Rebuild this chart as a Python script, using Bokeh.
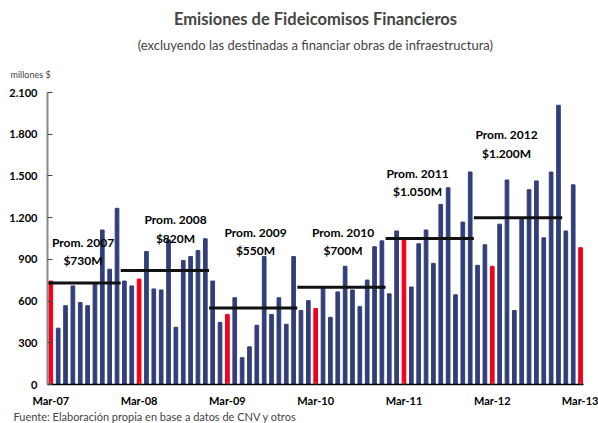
from bokeh.plotting import figure
from bokeh.models import ColumnDataSource, Range1d, FixedTicker, Label, Title
from bokeh.embed import file_html
from bokeh.resources import INLINE

# ---- data (millones $), monthly from Mar-07 to Mar-13 ----
v2007 = [744, 405, 567, 709, 589, 567, 730, 1111, 829, 1267]          # Mar..Dec
v2008 = [744, 709, 758, 956, 687, 680, 1040, 412, 892, 920, 963, 1048]
v2009 = [744, 447, 504, 624, 193, 271, 426, 920, 504, 624, 433, 920]
v2010 = [532, 603, 546, 694, 483, 666, 850, 680, 560, 751, 991, 1033]
v2011 = [652, 1104, 1048, 701, 1012, 1111, 871, 1295, 1415, 645, 1168, 1528]
v2012 = [857, 1005, 850, 1153, 1471, 532, 1189, 1401, 1464, 1055, 1528, 2008]
v2013 = [1104, 1436, 984]                                              # Jan..Mar

avg_years = [2007, 2008, 2009, 2010, 2011, 2012]
avg_values = [730, 820, 550, 700, 1050, 1200]
avg_titles = ["Prom. 2007", "Prom. 2008", "Prom. 2009", "Prom. 2010", "Prom. 2011", "Prom. 2012"]
avg_labels = ["$730M", "$820M", "$550M", "$700M", "$1.050M", "$1.200M"]

y_ticks = [0, 300, 600, 900, 1200, 1500, 1800, 2100]
y_tick_labels = ["0", "300", "600", "900", "1.200", "1.500", "1.800", "2.100"]
x_tick_labels = ["Mar-07", "Mar-08", "Mar-09", "Mar-10", "Mar-11", "Mar-12", "Mar-13"]

NAVY = "#323F7A"
RED = "#F0001A"
FONT = "Lato"

# ---- build monthly table ----
series = [(2007, 3, v2007), (2008, 1, v2008), (2009, 1, v2009), (2010, 1, v2010),
          (2011, 1, v2011), (2012, 1, v2012), (2013, 1, v2013)]
xs, vals, yrs, mons = [], [], [], []
i = 0
for yr, m0, vv in series:
    for k, v in enumerate(vv):
        xs.append(i)
        vals.append(v)
        yrs.append(yr)
        mons.append(m0 + k)
        i += 1
colors = [RED if m == 3 else NAVY for m in mons]
src = ColumnDataSource(dict(x=xs, top=vals, color=colors))

x_ticks = [x for x, m in zip(xs, mons) if m == 3]

# average segments (Jan..Dec of each year)
ax0, ax1 = [], []
for y in avg_years:
    idx = [x for x, yy in zip(xs, yrs) if yy == y]
    ax0.append(min(idx) - 0.5)
    ax1.append(max(idx) + 0.5)
avg_src = ColumnDataSource(dict(x0=ax0, x1=ax1, y=avg_values))

# ---- figure ----
W, H = 598, 423
FL, FR, FT = 47, 583, 92   # frame edges in px
X0, X1 = -0.45, 72.4
Y0, Y1 = 0, 2100

p = figure(width=W, height=H, output_backend="svg", toolbar_location=None,
           x_range=Range1d(X0, X1), y_range=Range1d(Y0, Y1),
           min_border_left=FL, min_border_right=W - FR,
           min_border_top=FT, min_border_bottom=30)
p.outline_line_color = None
p.xgrid.grid_line_color = None
p.ygrid.grid_line_color = None
p.background_fill_color = "white"

p.vbar(x="x", top="top", width=0.5, color="color", source=src)
p.segment(x0="x0", y0="y", x1="x1", y1="y", source=avg_src,
          line_color="#111111", line_width=3)

# y axis
ya = p.yaxis[0]
ya.ticker = FixedTicker(ticks=y_ticks)
ya.major_label_overrides = {t: s for t, s in zip(y_ticks, y_tick_labels)}
ya.major_tick_in = 5
ya.major_tick_out = 0
ya.minor_tick_line_color = None
ya.major_label_standoff = 10
ya.axis_line_color = "#8a8a8a"
ya.axis_line_width = 2
ya.major_tick_line_color = "#444444"
ya.major_label_text_font = FONT
ya.major_label_text_font_style = "bold"
ya.major_label_text_font_size = "11px"
ya.major_label_text_color = "black"

# x axis
xa = p.xaxis[0]
xa.ticker = FixedTicker(ticks=x_ticks)
xa.major_label_overrides = {t: s for t, s in zip(x_ticks, x_tick_labels)}
xa.major_tick_in = 3
xa.major_tick_out = 0
xa.minor_tick_line_color = None
xa.major_tick_line_color = "#777777"
xa.axis_line_color = "black"
xa.axis_line_width = 1.5
xa.major_label_standoff = 9
xa.major_label_text_font = FONT
xa.major_label_text_font_style = "bold"
xa.major_label_text_font_size = "11px"
xa.major_label_text_color = "black"

# helpers: reference pixel -> data coordinates (for in-plot annotations)
FB = 388
def rx(px):
    return X0 + (px - FL) * (X1 - X0) / (FR - FL)

def ry(py):
    return Y0 + (FB - py) * (Y1 - Y0) / (FB - FT)

title_pos = [(82.5, 244), (175, 221), (255, 234), (342.5, 234), (417, 174), (506, 135)]
for t, lab, (px, py) in zip(avg_titles, avg_labels, title_pos):
    for txt, yy in ((t, py), (lab, py + 18.5)):
        p.add_layout(Label(x=rx(px), y=ry(yy), text=txt, text_font=FONT,
                           text_font_size="12px", text_font_style="bold",
                           text_align="center", text_baseline="middle",
                           text_color="black"))

# titles above (first added = closest to the plot)
p.add_layout(Title(text="millones $", align="left", offset=-37, vertical_align="middle",
                   text_font=FONT, text_font_size="9px", text_font_style="normal",
                   standoff=23), "above")
p.add_layout(Title(text="(excluyendo las destinadas a financiar obras de infraestructura)",
                   align="center", offset=6, vertical_align="middle",
                   text_font=FONT, text_font_size="13px", text_font_style="normal",
                   standoff=6), "above")
p.add_layout(Title(text="Emisiones de Fideicomisos Financieros", align="center", offset=-1,
                   vertical_align="middle", text_font=FONT, text_font_size="16.5px",
                   text_font_style="bold", standoff=5), "above")
p.add_layout(Title(text="Fuente: Elaboración propia en base a datos de CNV y otros",
                   align="left", offset=-34, vertical_align="middle",
                   text_font=FONT, text_font_size="11px", text_font_style="normal",
                   standoff=-1), "below")

open("out.html", "w").write(file_html(p, INLINE))
